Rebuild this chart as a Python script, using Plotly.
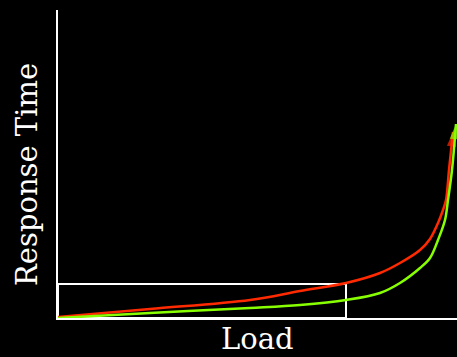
import plotly.graph_objects as go

# Data (arbitrary units: load vs response time)
load_red = [0, 92, 192, 242, 288, 322, 342, 362, 372, 380, 385, 388, 391, 395]
resp_red = [1, 9, 18, 27, 35, 45, 55, 68, 79, 95, 108, 118, 148, 186]
load_green = [0, 92, 192, 242, 288, 322, 342, 362, 372, 380, 387, 390, 394, 398]
resp_green = [0, 5, 10, 13, 18, 25, 35, 50, 60, 78, 98, 118, 148, 194]
# Highlighted region (load, response)
box_load = [0, 288]
box_resp = [0, 34]

def sizes(n, last):
    return [0] * (n - 1) + [last]

fig = go.Figure()
fig.add_trace(go.Scatter(
    x=load_red, y=resp_red, mode="lines+markers",
    line=dict(color="#ff2a00", width=2.5, shape="spline", smoothing=1.0),
    marker=dict(symbol="arrow", angleref="previous", size=sizes(len(load_red), 15),
                color="#ff2a00", line=dict(width=0)),
    hoverinfo="skip"))
fig.add_trace(go.Scatter(
    x=load_green, y=resp_green, mode="lines+markers",
    line=dict(color="#88ff00", width=2.5, shape="spline", smoothing=1.0),
    marker=dict(symbol="arrow", angleref="previous", size=sizes(len(load_green), 16),
                color="#88ff00", line=dict(width=0)),
    hoverinfo="skip"))

fig.add_shape(type="rect", x0=box_load[0], x1=box_load[1], y0=box_resp[0], y1=box_resp[1],
              line=dict(color="white", width=2), layer="below")

font = dict(family="DejaVu Serif", color="white", size=29)
fig.add_annotation(text="Load", xref="paper", yref="paper", x=0.5, y=0,
                   yshift=-21, xanchor="center", yanchor="middle", showarrow=False, font=font)
fig.add_annotation(text="Response Time", xref="paper", yref="paper", x=0, y=0.5,
                   xshift=-31, yshift=-11, textangle=-90, xanchor="center", yanchor="middle",
                   showarrow=False, font=font)

fig.update_layout(
    width=457, height=357,
    margin=dict(l=58, r=0, t=10, b=39),
    paper_bgcolor="black", plot_bgcolor="black",
    showlegend=False,
    xaxis=dict(range=[0, 399], showline=True, linecolor="white", linewidth=2,
               showgrid=False, zeroline=False, showticklabels=False, ticks=""),
    yaxis=dict(range=[0, 308], showline=True, linecolor="white", linewidth=2,
               showgrid=False, zeroline=False, showticklabels=False, ticks=""),
)
fig.write_html(
    "out.html",
    config={"displayModeBar": False},
    post_script="document.body.style.margin='0';document.body.style.background='black';"
                "document.body.style.overflow='hidden';",
)
